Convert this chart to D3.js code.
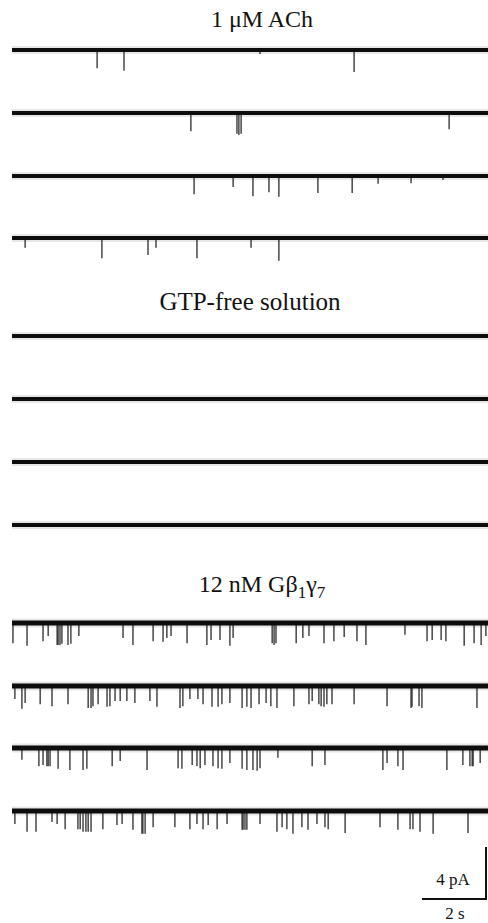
<!DOCTYPE html>
<html>
<head>
<meta charset="utf-8">
<script src="https://cdn.jsdelivr.net/npm/d3@7/dist/d3.min.js"></script>
<style>
  html, body { margin: 0; padding: 0; background: #fff; }
  svg { display: block; }
  text { font-family: "Liberation Serif", "Times New Roman", serif; fill: #111; }
</style>
</head>
<body>
<script>
// ---- Data: single-channel openings per sweep, [time (s), amplitude (pA)] ----
const panelTitles = ["1 \u03bcM ACh", "GTP-free solution", "12 nM G\u03b2\u2081\u03b3\u2087"];
const sweepDuration = 15; // s

const achSweep1 = [[2.66,-1.4],[3.50,-1.6],[7.75,-0.3],[10.69,-1.7]];
const achSweep2 = [[5.59,-1.4],[7.03,-1.6],[7.09,-1.7],[7.16,-1.6],[13.66,-1.25]];
const achSweep3 = [[5.69,-1.4],[6.91,-0.85],[7.53,-1.55],[8.03,-1.25],[8.34,-1.6],[9.56,-1.3],[10.63,-1.3],[11.44,-0.6],[12.47,-0.55],[13.47,-0.3]];
const achSweep4 = [[0.41,-0.75],[2.81,-1.55],[4.25,-1.3],[4.50,-0.75],[5.78,-1.55],[7.47,-0.75],[8.34,-1.75]];

const gtpFreeSweep1 = [];
const gtpFreeSweep2 = [];
const gtpFreeSweep3 = [];
const gtpFreeSweep4 = [];

const gbgSweep1 = [[0.03,-1.55],[0.47,-1.75],[0.97,-1.4],[1.13,-1.0],[1.41,-1.7],[1.44,-1.7],[1.50,-1.7],[1.56,-1.6],[1.75,-1.7],[1.84,-1.6],[2.09,-1.0],[3.47,-1.15],[3.78,-1.7],[4.41,-1.4],[4.72,-1.45],[4.84,-1.15],[4.97,-1.0],[5.47,-1.55],[6.09,-1.7],[6.22,-1.3],[6.50,-1.3],[6.81,-1.75],[6.91,-1.15],[8.13,-1.55],[8.19,-1.7],[8.25,-1.55],[8.88,-1.55],[9.09,-1.15],[9.28,-1.0],[9.75,-1.55],[10.06,-1.4],[10.38,-1.08],[10.78,-1.4],[11.06,-1.7],[12.28,-0.9],[12.97,-1.4],[13.13,-1.3],[13.41,-1.3],[13.56,-1.4],[14.13,-1.75],[14.44,-1.55],[14.66,-1.7],[14.81,-1.0]];
const gbgSweep2 = [[0.09,-1.0],[0.31,-1.75],[0.41,-1.3],[0.88,-1.4],[1.25,-1.55],[1.75,-1.4],[2.38,-1.7],[2.47,-1.7],[2.53,-1.55],[2.69,-1.4],[2.97,-1.6],[3.06,-1.55],[3.22,-1.15],[3.38,-1.15],[3.59,-1.15],[3.84,-1.3],[4.31,-1.15],[4.53,-1.6],[5.25,-1.7],[5.34,-1.55],[5.56,-1.0],[5.81,-1.0],[5.97,-1.4],[6.25,-1.6],[6.44,-1.6],[6.56,-1.4],[6.81,-1.3],[7.19,-1.7],[7.34,-1.6],[7.47,-1.7],[7.72,-1.4],[7.94,-1.3],[8.09,-1.55],[8.28,-1.7],[8.81,-1.55],[9.28,-1.4],[9.38,-1.15],[9.59,-1.4],[9.66,-1.55],[9.75,-1.6],[9.84,-1.4],[10.00,-1.4],[10.69,-1.4],[11.72,-1.55],[12.47,-1.7],[12.50,-1.6],[12.72,-1.55],[12.81,-1.7],[14.53,-1.7]];
const gbgSweep3 = [[0.31,-0.9],[0.84,-1.4],[0.97,-1.3],[1.09,-1.4],[1.13,-1.4],[1.19,-1.4],[1.44,-1.6],[1.81,-1.7],[2.22,-1.7],[2.34,-1.6],[3.13,-1.4],[3.38,-1.0],[4.22,-1.7],[5.19,-1.55],[5.31,-1.6],[5.63,-1.3],[5.78,-1.4],[5.88,-1.55],[6.03,-1.3],[6.28,-1.4],[6.44,-1.55],[6.56,-1.6],[6.81,-1.15],[7.19,-1.6],[7.34,-1.7],[7.53,-1.7],[7.66,-1.75],[7.75,-1.55],[8.31,-0.75],[9.38,-1.4],[9.78,-1.3],[11.59,-1.7],[11.72,-1.15],[12.06,-1.4],[12.22,-1.7],[13.59,-1.7],[14.09,-1.3],[14.31,-1.4],[14.38,-1.4],[14.41,-1.4],[14.63,-1.15]];
const gbgSweep4 = [[0.09,-1.0],[0.47,-1.6],[0.75,-1.6],[1.25,-0.85],[1.41,-1.0],[1.66,-1.4],[2.06,-1.4],[2.13,-1.4],[2.22,-1.6],[2.31,-1.6],[2.38,-1.6],[2.47,-1.6],[2.84,-1.4],[3.28,-1.08],[3.44,-1.0],[3.78,-1.45],[4.06,-1.75],[4.09,-1.75],[4.16,-1.75],[4.41,-1.25],[5.09,-1.25],[5.56,-1.4],[5.78,-1.0],[5.97,-1.4],[6.13,-1.08],[6.41,-1.4],[6.72,-1.0],[7.19,-1.45],[7.22,-1.45],[7.28,-1.45],[7.34,-1.45],[7.75,-1.0],[8.28,-1.6],[8.44,-1.25],[8.59,-1.4],[8.78,-1.75],[9.06,-1.25],[9.25,-1.45],[9.53,-1.0],[9.78,-1.25],[9.88,-1.4],[10.41,-1.7],[11.50,-1.25],[12.06,-1.45],[12.44,-1.4],[12.53,-1.4],[12.75,-1.6],[13.16,-1.75],[14.25,-1.7]];

const scaleBarCurrent = 4; // pA
const scaleBarTime = 2;    // s
const scaleBarLabels = ["4 pA", "2 s"];

// ---- Layout ----
const W = 488, H = 923;
const panels = [
  { title: panelTitles[0], titleY: 27, titleX: 262, sweeps: [achSweep1, achSweep2, achSweep3, achSweep4], bases: [50, 113, 176, 238], lineW: 4 },
  { title: panelTitles[1], titleY: 310, titleX: 250, sweeps: [gtpFreeSweep1, gtpFreeSweep2, gtpFreeSweep3, gtpFreeSweep4], bases: [336, 399, 462, 525], lineW: 4.2 },
  { title: panelTitles[2], titleY: 592, titleX: 262, sweeps: [gbgSweep1, gbgSweep2, gbgSweep3, gbgSweep4], bases: [623, 686, 748, 811], lineW: 5 }
];

const svg = d3.select("body").append("svg").attr("width", W).attr("height", H);

const x = d3.scaleLinear().domain([0, sweepDuration]).range([12, 492]);
const pxPerPA = 13;

panels.forEach((p, pi) => {
  const g = svg.append("g");
  // title
  const t = g.append("text")
    .attr("x", p.titleX).attr("y", p.titleY)
    .attr("text-anchor", "middle")
    .style("font-size", pi === 1 ? "25px" : "24px");
  if (pi === 2) {
    t.append("tspan").text("12 nM G\u03b2");
    t.append("tspan").attr("dy", 6).style("font-size", "17px").text("1");
    t.append("tspan").attr("dy", -6).text("\u03b3");
    t.append("tspan").attr("dy", 6).style("font-size", "17px").text("7");
  } else {
    t.text(p.title);
  }

  p.sweeps.forEach((events, si) => {
    const base = p.bases[si];
    const y = d3.scaleLinear().domain([0, -4]).range([base, base + 4 * pxPerPA]);
    // faint halo of noise
    g.append("line")
      .attr("x1", x(0)).attr("x2", x(sweepDuration))
      .attr("y1", y(0)).attr("y2", y(0))
      .attr("stroke", "#bbb").attr("stroke-width", p.lineW + 4).attr("stroke-opacity", 0.35);
    // event openings
    g.selectAll(null).data(events).enter().append("line")
      .attr("x1", d => x(d[0])).attr("x2", d => x(d[0]))
      .attr("y1", y(0)).attr("y2", d => y(d[1]))
      .attr("stroke", "#2a2a2a").attr("stroke-width", 1.3);
    // baseline (closed level)
    g.append("line")
      .attr("x1", x(0)).attr("x2", x(sweepDuration))
      .attr("y1", y(0)).attr("y2", y(0))
      .attr("stroke", "#0d0d0d").attr("stroke-width", p.lineW);
  });
});

// ---- Scale bar ----
const barRight = 486, barBottom = 899;
const yBar = d3.scaleLinear().domain([0, scaleBarCurrent]).range([barBottom, barBottom - scaleBarCurrent * pxPerPA]);
const tBar = d3.scaleLinear().domain([0, scaleBarTime]).range([barRight - (x(scaleBarTime) - x(0)), barRight]);
const sb = svg.append("g");
sb.append("path")
  .attr("d", `M${tBar(0)},${yBar(0)}H${tBar(scaleBarTime)}V${yBar(scaleBarCurrent)}`)
  .attr("fill", "none").attr("stroke", "#111").attr("stroke-width", 2);
sb.append("text").attr("x", 453).attr("y", 885).attr("text-anchor", "middle")
  .style("font-size", "17px").text(scaleBarLabels[0]);
sb.append("text").attr("x", 455).attr("y", 919).attr("text-anchor", "middle")
  .style("font-size", "17px").text(scaleBarLabels[1]);
</script>
</body>
</html>
